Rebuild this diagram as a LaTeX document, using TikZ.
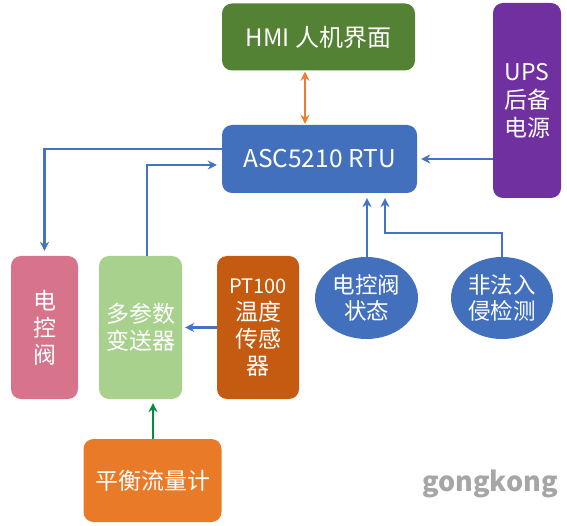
\documentclass[tikz,border=0pt]{standalone}
\usepackage{fontspec}
\setmainfont{Noto Sans CJK SC}
\usetikzlibrary{arrows.meta,shapes.geometric}
\definecolor{hmigreen}{HTML}{548235}
\definecolor{rtublue}{HTML}{4270BC}
\definecolor{upspurple}{HTML}{7030A0}
\definecolor{valvepink}{HTML}{D8738C}
\definecolor{lightgreen}{HTML}{A9D18E}
\definecolor{ptbrown}{HTML}{C55A11}
\definecolor{floworange}{HTML}{E97A27}
\definecolor{lineblue}{HTML}{4472C4}
\definecolor{lineorange}{HTML}{ED7D31}
\definecolor{linegreen}{HTML}{00903C}
\definecolor{wmgray}{HTML}{A6A6A6}
\begin{document}
\begin{tikzpicture}[x=1pt,y=-1pt,
  box/.style={rectangle,rounded corners=10pt,draw=none,text=white,align=center,inner sep=0pt,font=\fontsize{23}{27}\selectfont},
  oval/.style={ellipse,fill=rtublue,draw=none,text=white,align=center,inner sep=0pt,font=\fontsize{22.5}{26}\selectfont},
  conn/.style={line width=2.3pt,draw=lineblue,-{Stealth[length=9pt,width=9pt]}},
  conno/.style={line width=2.3pt,draw=lineorange,{Stealth[length=9pt,width=9pt]}-{Stealth[length=9pt,width=9pt]}},
  conng/.style={line width=2.3pt,draw=linegreen,-{Stealth[length=9pt,width=9pt]}}]
\useasboundingbox (0,0) rectangle (567,526);
\fill[white] (0,0) rectangle (567,526);

\node[box,fill=hmigreen,minimum width=193pt,minimum height=67pt,font=\fontsize{24}{28}\selectfont] (hmi) at (318.5,37) {HMI 人机界面};
\node[box,fill=rtublue,minimum width=195pt,minimum height=68pt,font=\fontsize{24.5}{28}\selectfont] (rtu) at (319.5,159) {ASC5210 RTU};
\node[box,fill=upspurple,minimum width=68pt,minimum height=195pt,font=\fontsize{23}{28}\selectfont] (ups) at (527,100.5) {UPS\\后备\\电源};
\node[box,fill=valvepink,minimum width=67pt,minimum height=143pt] (valve) at (44.5,327.5) {电\\控\\阀};
\node[box,fill=lightgreen,minimum width=83pt,minimum height=143pt] (multi) at (140.5,327.5) {多参数\\变送器};
\node[box,fill=ptbrown,minimum width=82pt,minimum height=143pt] (pt) at (258,327.5) {{\fontsize{20}{27}\selectfont PT100}\\温度\\传感\\器};
\node[oval,minimum width=103pt,minimum height=82pt] (st) at (366.5,298) {电控阀\\状态};
\node[oval,minimum width=102pt,minimum height=82pt] (intr) at (502,298) {非法入\\侵检测};
\node[box,fill=floworange,minimum width=138pt,minimum height=83pt] (flow) at (152.5,480.5) {平衡流量计};
\node[text=wmgray,font=\fontsize{27}{29}\selectfont\bfseries] (wm) at (490,484) {gongkong};

\coordinate (hx) at (305,0);
\coordinate (ya) at (0,149);
\coordinate (yb) at (0,165);
\coordinate (xm) at (147,0);
\coordinate (xf) at (153,0);
\coordinate (xs) at (367,0);
\coordinate (xk) at (385,0);
\coordinate (yk) at (0,233);

\draw[conno,shorten <=1pt,shorten >=1pt] (hmi.south -| hx) -- (rtu.north -| hx);
\draw[conn,shorten >=4pt] (ups.west |- rtu.east) -- (rtu.east);
\draw[conn,shorten >=5pt] (rtu.west |- ya) -| (valve.north);
\draw[conn,shorten >=5pt] (multi.north -| xm) |- (rtu.west |- yb);
\draw[conn,shorten >=3pt] (pt.west) -- (multi.east);
\draw[conng,shorten >=4pt] (flow.north -| xf) -- (multi.south -| xf);
\draw[conn,shorten >=5pt] (st.north -| xs) -- (rtu.south -| xs);
\draw[conn,shorten >=5pt] (intr.north) |- (xk |- yk) -- (rtu.south -| xk);
\end{tikzpicture}
\end{document}
